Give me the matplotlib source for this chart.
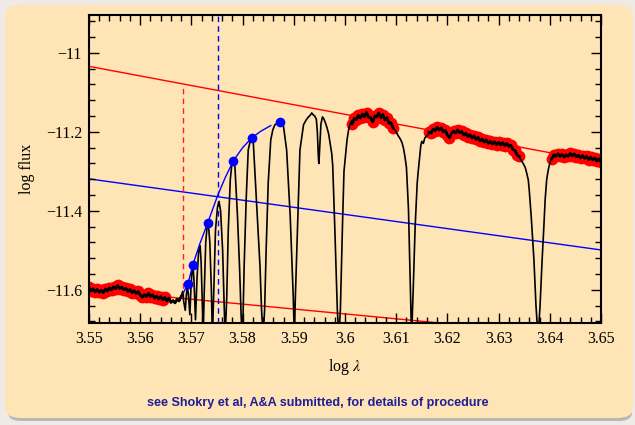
import numpy as np
import matplotlib.pyplot as plt
from matplotlib.patches import FancyBboxPatch
from matplotlib.ticker import MultipleLocator, FuncFormatter

plt.rcParams['font.family'] = ['Liberation Serif', 'DejaVu Serif']
plt.rcParams['mathtext.fontset'] = 'stix'

# continuum windows (log flux, wavelength grid step 0.0004)
win_a_y = [-11.594, -11.603, -11.597, -11.605, -11.599, -11.606, -11.601, -11.607, -11.598, -11.603,
           -11.595, -11.600, -11.592, -11.597, -11.589, -11.597, -11.593, -11.600, -11.596, -11.604,
           -11.599, -11.607, -11.602, -11.609, -11.604, -11.613, -11.619, -11.612, -11.617, -11.609,
           -11.617, -11.612, -11.621, -11.616, -11.623, -11.617, -11.625, -11.619, -11.628, -11.621,
           -11.632, -11.627, -11.633, -11.624, -11.628, -11.617]
win_a_x = np.linspace(3.5500, 3.5680, len(win_a_y))

win_b_y = [-11.180, -11.166, -11.169, -11.158, -11.165, -11.155, -11.162, -11.151, -11.163, -11.164,
           -11.175, -11.160, -11.162, -11.152, -11.164, -11.156, -11.170, -11.164, -11.178, -11.177,
           -11.190]
win_b_x = np.linspace(3.6014, 3.6094, len(win_b_y))

win_c_y = [-11.201, -11.203, -11.193, -11.197, -11.188, -11.195, -11.190, -11.200, -11.196, -11.208,
           -11.215, -11.204, -11.198, -11.203, -11.195, -11.202, -11.199, -11.208, -11.203, -11.212,
           -11.207, -11.216, -11.210, -11.219, -11.214, -11.223, -11.218, -11.226, -11.220, -11.229,
           -11.224, -11.231, -11.225, -11.232, -11.226, -11.233, -11.227, -11.235, -11.229, -11.237,
           -11.234, -11.245, -11.247, -11.258, -11.262]
win_c_x = np.linspace(3.6164, 3.6340, len(win_c_y))

win_d_y = [-11.268, -11.258, -11.262, -11.255, -11.262, -11.257, -11.264, -11.258, -11.262, -11.254,
           -11.261, -11.256, -11.263, -11.259, -11.266, -11.260, -11.267, -11.262, -11.270, -11.264,
           -11.271, -11.266, -11.274, -11.268, -11.276]
win_d_x = np.linspace(3.6404, 3.6500, len(win_d_y))

# Balmer lines H16 ... Hepsilon and Ca II K
balmer_x = [3.5683, 3.5685, 3.5688, 3.5690, 3.5692, 3.5694, 3.5697, 3.5699, 3.5701, 3.5703,
            3.5705, 3.5708, 3.5711, 3.5714, 3.5717, 3.5719, 3.5721, 3.5723, 3.5725, 3.5728,
            3.5731, 3.5733, 3.5736, 3.5739, 3.5741, 3.5744, 3.5747, 3.5751, 3.5754, 3.5757,
            3.5761, 3.5764, 3.5766, 3.5769, 3.5772, 3.5776, 3.5779, 3.5782,
            3.5785, 3.5790, 3.5794, 3.5797, 3.5799, 3.5801, 3.5803, 3.5807, 3.5811, 3.5815, 3.5818,
            3.5821, 3.5827, 3.5834, 3.5837, 3.5840, 3.5843, 3.5846, 3.5850, 3.5855, 3.5859,
            3.5863, 3.5868, 3.5871, 3.5874, 3.5877,
            3.5880, 3.5886, 3.5893, 3.5899, 3.5901, 3.5903, 3.5908, 3.5912, 3.5919, 3.5924,
            3.5928, 3.5932, 3.5935, 3.5938, 3.5941, 3.5944,
            3.5946, 3.5948, 3.5949, 3.5951, 3.5953, 3.5956, 3.5959, 3.5962, 3.5965, 3.5968,
            3.5971, 3.5974, 3.5976, 3.5980, 3.5985, 3.5988, 3.5991, 3.5995, 3.5998, 3.6001,
            3.6004, 3.6007, 3.6010, 3.6013]
balmer_y = [-11.604, -11.630, -11.652, -11.615, -11.592, -11.610, -11.663, -11.600, -11.555, -11.538,
            -11.575, -11.676, -11.570, -11.505, -11.488, -11.530, -11.620, -11.720, -11.610, -11.480,
            -11.435, -11.430, -11.480, -11.600, -11.720, -11.590, -11.450, -11.390, -11.376, -11.400,
            -11.500, -11.640, -11.720, -11.620, -11.450, -11.320, -11.282, -11.273,
            -11.288, -11.414, -11.541, -11.660, -11.720, -11.660, -11.541, -11.370, -11.246, -11.222, -11.215,
            -11.229, -11.372, -11.541, -11.650, -11.720, -11.650, -11.499, -11.330, -11.220, -11.195,
            -11.182, -11.178, -11.172, -11.176, -11.180,
            -11.187, -11.246, -11.414, -11.620, -11.720, -11.620, -11.414, -11.246, -11.182, -11.170,
            -11.163, -11.158, -11.152, -11.157, -11.160, -11.168,
            -11.200, -11.265, -11.280, -11.230, -11.180, -11.162, -11.168, -11.178, -11.190, -11.205,
            -11.230, -11.254, -11.285, -11.440, -11.650, -11.720, -11.650, -11.440, -11.300, -11.260,
            -11.220, -11.195, -11.180, -11.172]

hdelta_x = [3.6098, 3.6101, 3.6104, 3.6108, 3.6111, 3.6114, 3.6117, 3.6120, 3.6124, 3.6128,
            3.6130, 3.6133, 3.6137, 3.6141, 3.6143, 3.6146, 3.6148, 3.6150, 3.6153, 3.6156,
            3.6160, 3.6163]
hdelta_y = [-11.196, -11.203, -11.210, -11.218, -11.226, -11.240, -11.262, -11.290, -11.397, -11.608,
            -11.720, -11.608, -11.440, -11.330, -11.300, -11.262, -11.235, -11.224, -11.229, -11.215,
            -11.210, -11.206]

hgamma_x = [3.6344, 3.6348, 3.6352, 3.6355, 3.6358, 3.6360, 3.6364, 3.6369, 3.6373, 3.6377,
            3.6381, 3.6385, 3.6388, 3.6391, 3.6394, 3.6397, 3.6400, 3.6403]
hgamma_y = [-11.272, -11.280, -11.290, -11.305, -11.322, -11.350, -11.420, -11.524, -11.640, -11.720,
            -11.640, -11.524, -11.450, -11.370, -11.320, -11.296, -11.280, -11.268]

# fits
cont_hi_x, cont_hi_y = [3.55, 3.65], [-11.034, -11.277]
cont_lo_x, cont_lo_y = [3.55, 3.65], [-11.599, -11.723]
half_x, half_y = [3.55, 3.65], [-11.319, -11.499]

peak_x = [3.5693, 3.5703, 3.5732, 3.5782, 3.5818, 3.5874]
peak_y = [-11.586, -11.536, -11.430, -11.273, -11.215, -11.175]
env_x = [3.5684, 3.5693, 3.5703, 3.5716, 3.5732, 3.5751, 3.5766, 3.5782, 3.5800, 3.5818, 3.5836, 3.5855]
env_y = [-11.608, -11.586, -11.536, -11.485, -11.430, -11.362, -11.316, -11.273, -11.240, -11.215, -11.198, -11.184]

lam_jump = 3.5684
lam_half = 3.5751

windows = [(win_a_x, win_a_y), (win_b_x, win_b_y), (win_c_x, win_c_y), (win_d_x, win_d_y)]
spec_x = np.concatenate([win_a_x, balmer_x, win_b_x, hdelta_x, win_c_x, hgamma_x, win_d_x])
spec_y = np.concatenate([win_a_y, balmer_y, win_b_y, hdelta_y, win_c_y, hgamma_y, win_d_y])

fig = plt.figure(figsize=(6.35, 4.25), dpi=100)
fig.patch.set_facecolor('#eeeae6')
W, H = 635.0, 425.0
shadow = FancyBboxPatch((8 / W, 4 / H), 624 / W, 410 / H, boxstyle='round,pad=0,rounding_size=0.02',
                        transform=fig.transFigure, facecolor='#9a9794', edgecolor='none', alpha=0.6,
                        zorder=-10)
panel = FancyBboxPatch((5 / W, 7 / H), 628 / W, 413 / H, boxstyle='round,pad=0,rounding_size=0.025',
                       transform=fig.transFigure, facecolor='#ffe4b5', edgecolor='none', zorder=-9)
fig.patches.extend([shadow, panel])

ax = fig.add_axes([89 / W, 1 - 323 / H, 512 / W, 308 / H])
ax.set_zorder(5)
ax.set_facecolor('#ffe4b5')

ax.plot(cont_hi_x, cont_hi_y, color='red', lw=1.0, zorder=1)
ax.plot(cont_lo_x, cont_lo_y, color='red', lw=1.0, zorder=1)
ax.plot(half_x, half_y, color='blue', lw=1.0, zorder=1)

y_hi = np.interp(lam_jump, cont_hi_x, cont_hi_y)
y_lo = np.interp(lam_jump, cont_lo_x, cont_lo_y)
ax.plot([lam_jump, lam_jump], [y_lo, y_hi], color='#ff2020', lw=1.0, ls=(0, (4, 3)), zorder=1)
ax.axvline(lam_half, color='blue', lw=1.0, ls=(0, (4, 3)), zorder=1)

for wx, wy in windows:
    wx = np.asarray(wx)
    wy = np.asarray(wy)
    m = wx <= 3.5648 if wx[0] < 3.56 else np.ones(len(wx), bool)
    ax.plot(wx[m], wy[m], 'o', color='red', ms=8.5, mec='none', zorder=2)

ax.plot(spec_x, spec_y, color='black', lw=1.2, zorder=3)
for wx, wy in windows:
    ax.plot(wx, wy, color='black', lw=2.0, zorder=3)
ax.plot(env_x, env_y, color='blue', lw=1.0, zorder=4)
ax.plot(peak_x, peak_y, 'o', color='blue', ms=7, mec='none', zorder=5)

ax.set_xlim(3.55, 3.65)
ax.set_ylim(-11.684, -10.904)
ax.xaxis.set_major_locator(MultipleLocator(0.01))
ax.xaxis.set_minor_locator(MultipleLocator(0.002))
ax.yaxis.set_major_locator(MultipleLocator(0.2))
ax.yaxis.set_minor_locator(MultipleLocator(0.04))
fmt = FuncFormatter(lambda v, p: ('%g' % round(v, 4)).replace('-', '\u2212'))
ax.xaxis.set_major_formatter(fmt)
ax.yaxis.set_major_formatter(fmt)
ax.tick_params(which='both', direction='in', top=True, right=True, labelsize=11.5, width=1.0)
ax.tick_params(which='major', length=7)
ax.tick_params(which='minor', length=4)
ax.tick_params(axis='x', pad=6)
ax.tick_params(axis='y', pad=5)
for s in ax.spines.values():
    s.set_linewidth(1.5)

ax.set_xlabel(r'log $\lambda$', fontsize=11.5, labelpad=7)
ax.set_ylabel('log flux', fontsize=11.5, labelpad=8)

fig.text(447.5 / W, 1 - 33 / H, 'HD 130163, MJD=56404.2617', ha='center', va='center', fontsize=12.4)
fig.text(447.5 / W, 1 - 56 / H, r'$D_\star$ = 0.546 dex, $\lambda_1$ = 57.2 Å', ha='center', va='center',
         fontsize=12.4)

fig.text(0.5, 1 - 403 / H, 'see Shokry et al, A&A submitted, for details of procedure', ha='center',
         va='center', fontsize=9.1, fontweight='bold', color='#1e1e96',
         family=['Liberation Sans', 'DejaVu Sans'])

fig.savefig('out.png', dpi=100, facecolor=fig.get_facecolor())
